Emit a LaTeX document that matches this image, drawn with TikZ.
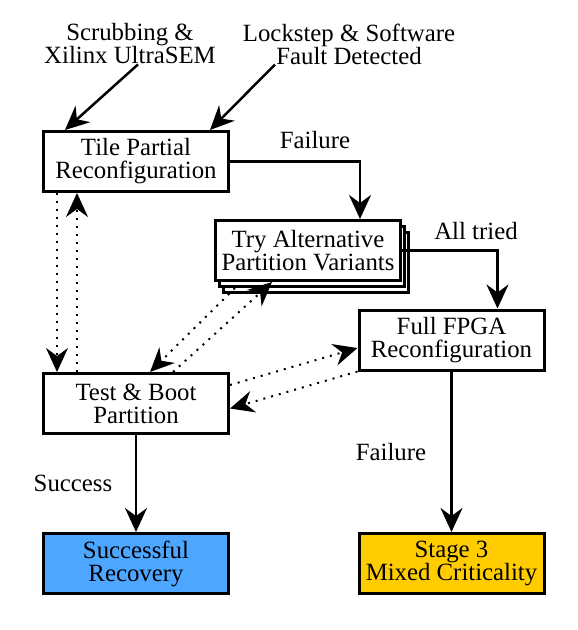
\documentclass[tikz,border=0pt]{standalone}
\usepackage{fontspec}
\setmainfont{Liberation Serif}
\usetikzlibrary{arrows.meta,calc}
\definecolor{okblue}{HTML}{4DA6FF}
\definecolor{stageyellow}{HTML}{FFCC00}
\begin{document}
\begin{tikzpicture}[x=1pt,y=-1pt,
  font=\fontsize{24.8}{23}\selectfont,
  box/.style={draw, line width=3pt, fill=white, minimum width=185pt, minimum height=60pt, align=center, inner sep=0pt},
  lbl/.style={align=center, inner sep=0pt},
  tipstyle/.style={-{Stealth[length=24pt,width=22pt,inset=8pt]}},
  arr/.style={line width=2.5pt, tipstyle},
  dotarr/.style={line width=2pt, dash pattern=on 2pt off 6pt, tipstyle}
]
\useasboundingbox (0,0) rectangle (578,630);

% labels at top
\node[lbl] (scrub) at (130,44) {Scrubbing \&\\Xilinx UltraSEM};
\node[lbl] (lock) at (349,44) {Lockstep \& Software\\Fault Detected};

% boxes
\node[box] (try2) at (316,262.5) {};
\node[box] (try1) at (312,256.5) {};
\node[box] (try) at (308,250.5) {Try Alternative\\Partition Variants};
\node[box] (tile) at (136,161.5) {Tile Partial\\Reconfiguration};
\node[box] (full) at (451.5,340) {Full FPGA\\Reconfiguration};
\node[box] (test) at (136,403.5) {Test \& Boot\\Partition};
\node[box, fill=okblue] (success) at (136,563.5) {Successful\\Recovery};
\node[box, fill=stageyellow] (stage) at (451.5,563.5) {Stage 3\\Mixed Criticality};

% edge labels
\node[lbl] (lfail1) at (315,140) {Failure};
\node[lbl] (lall) at (476,231) {All tried};
\node[lbl] (lsucc) at (73,483) {Success};
\node[lbl] (lfail2) at (391,452) {Failure};

% solid connectors
\draw[arr] ([xshift=8pt]scrub.south) -- ([xshift=-71pt]tile.north);
\draw[arr] ([xshift=-74pt]lock.south) -- ([xshift=74pt]tile.north);
\draw[arr] (tile.east) -| ([xshift=52pt]try.north);
\draw[arr] (try.east) -| ([xshift=46pt]full.north);
\draw[arr] (test.south) -- (success.north);
\draw[arr] (full.south) -- (stage.north);

% dotted connectors
\draw[dotarr] ([xshift=-79pt]tile.south) -- ([xshift=-79pt]test.north);
\draw[dotarr] ([xshift=-59pt]test.north) -- ([xshift=-59pt]tile.south);
\draw[dotarr] ([xshift=37pt]test.north) -- ([xshift=-36pt]try.south);
\draw[dotarr] ([xshift=-73pt,yshift=-6pt]try.south) -- ([xshift=14pt]test.north);
\draw[dotarr] ([yshift=18.5pt]test.east) -- ([yshift=-8pt]full.west);
\draw[dotarr] (full.south west) -- ([yshift=-5pt]test.east);
\end{tikzpicture}
\end{document}
